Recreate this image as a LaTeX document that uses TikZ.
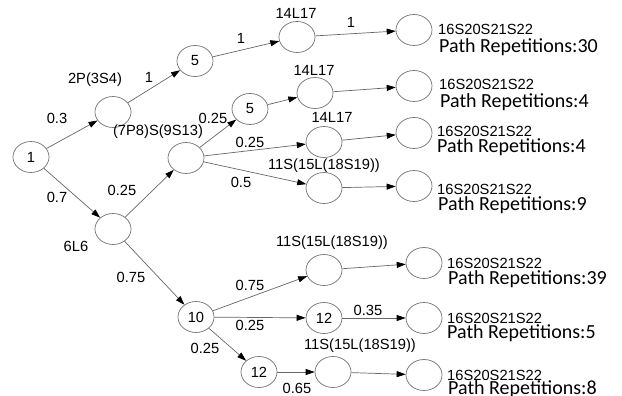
\documentclass[tikz,border=0pt]{standalone}
\usepackage{fontspec}
\setmainfont{Liberation Sans}
\newfontfamily\pathfont{Carlito}
\usetikzlibrary{arrows.meta,shapes.geometric}
\begin{document}
\begin{tikzpicture}[x=1pt,y=-1pt,
  state/.style={ellipse,draw=black!55,line width=0.7pt,minimum width=36pt,
    minimum height=31pt,inner sep=0pt,font=\fontsize{14.7}{16}\selectfont},
  edge/.style={draw=black!60,line width=0.7pt,
    -{Triangle[length=9pt,width=6pt,color=black]}},
  lbl/.style={font=\fontsize{14.7}{16}\selectfont,inner sep=0pt},
  seq/.style={font=\fontsize{14.7}{16}\selectfont,inner sep=0pt,anchor=base west},
  reps/.style={font=\pathfont\fontsize{20}{22}\selectfont,inner sep=0pt,anchor=base west}]
\useasboundingbox (0,0) rectangle (622,396);

% states
\node[state] (n1)   at (31,157) {1};
\node[state] (n2P)  at (113,112) {};
\node[state] (n5a)  at (195,61) {5};
\node[state] (n14a) at (297,37) {};
\node[state] (r1)   at (414,30) {};
\node[state] (n6L6) at (113,229) {};
\node[state] (n7P8) at (186,158) {};
\node[state] (n5b)  at (250,109) {5};
\node[state] (n14b) at (315,93) {};
\node[state] (r2)   at (414,86) {};
\node[state] (n14c) at (324,142) {};
\node[state] (r3)   at (414,133) {};
\node[state] (n11a) at (324,188) {};
\node[state] (r4)   at (414,186) {};
\node[state] (n10)  at (196,317) {10};
\node[state] (n11b) at (324,270) {};
\node[state] (r5)   at (424,263) {};
\node[state] (n12a) at (324,318) {12};
\node[state] (r6)   at (424,318) {};
\node[state] (n12b) at (259,372) {12};
\node[state] (n11c) at (333,372) {};
\node[state] (r7)   at (424,375) {};

% state names
\node[lbl] (t2P)  at (95,80)   {2P(3S4)};
\node[lbl] (t14a) at (296,13)  {14L17};
\node[lbl] (t14b) at (314,70)  {14L17};
\node[lbl] (t14c) at (332,117) {14L17};
\node[lbl] (t7P8) at (158,132) {(7P8)S(9S13)};
\node[lbl] (t11a) at (324,166) {11S(15L(18S19))};
\node[lbl] (t6L6) at (76,246)  {6L6};
\node[lbl] (t11b) at (332,243) {11S(15L(18S19))};
\node[lbl] (t11c) at (360,346) {11S(15L(18S19))};

% transitions
\draw[edge] (n1) -- (n2P);
\draw[edge] (n1) -- (n6L6);
\draw[edge] (n2P) -- (n5a);
\draw[edge] (n5a) -- (n14a);
\draw[edge] (n14a) -- (r1);
\draw[edge] (n6L6) -- (n7P8);
\draw[edge] (n7P8) -- (n5b);
\draw[edge] (n5b) -- (n14b);
\draw[edge] (n14b) -- (r2);
\draw[edge] (n7P8) -- (n14c);
\draw[edge] (n14c) -- (r3);
\draw[edge] (n7P8) -- (n11a);
\draw[edge] (n11a) -- (r4);
\draw[edge] (n6L6) -- (n10);
\draw[edge] (n10) -- (n11b);
\draw[edge] (n11b) -- (r5);
\draw[edge] (n10) -- (n12a);
\draw[edge] (n12a) -- (r6);
\draw[edge] (n10) -- (n12b);
\draw[edge] (n12b) -- (n11c);
\draw[edge] (n11c) -- (r7);

% probabilities
\node[lbl] (p1)  at (57,118)  {0.3};
\node[lbl] (p2)  at (57,197)  {0.7};
\node[lbl] (p3)  at (149,77)  {1};
\node[lbl] (p4)  at (241,38)  {1};
\node[lbl] (p5)  at (351,22)  {1};
\node[lbl] (p6)  at (122,190) {0.25};
\node[lbl] (p7)  at (213,118) {0.25};
\node[lbl] (p8)  at (250,142) {0.25};
\node[lbl] (p9)  at (241,182) {0.5};
\node[lbl] (p10) at (131,277) {0.75};
\node[lbl] (p11) at (250,285) {0.75};
\node[lbl] (p12) at (250,325) {0.25};
\node[lbl] (p13) at (205,348) {0.25};
\node[lbl] (p14) at (368,310) {0.35};
\node[lbl] (p15) at (297,388) {0.65};

% end states
\node[seq]  (s1) at (438,35)  {16S20S21S22};
\node[reps] (c1) at (439,52.5) {Path Repetitions:30};
\node[seq]  (s2) at (439,90)  {16S20S21S22};
\node[reps] (c2) at (440,107) {Path Repetitions:4};
\node[seq]  (s3) at (437,137) {16S20S21S22};
\node[reps] (c3) at (437,153) {Path Repetitions:4};
\node[seq]  (s4) at (437,194) {16S20S21S22};
\node[reps] (c4) at (438,210) {Path Repetitions:9};
\node[seq]  (s5) at (447,268) {16S20S21S22};
\node[reps] (c5) at (448,284) {Path Repetitions:39};
\node[seq]  (s6) at (447,323) {16S20S21S22};
\node[reps] (c6) at (447,338.5) {Path Repetitions:5};
\node[seq]  (s7) at (447,380) {16S20S21S22};
\node[reps] (c7) at (448,394) {Path Repetitions:8};
\end{tikzpicture}
\end{document}
